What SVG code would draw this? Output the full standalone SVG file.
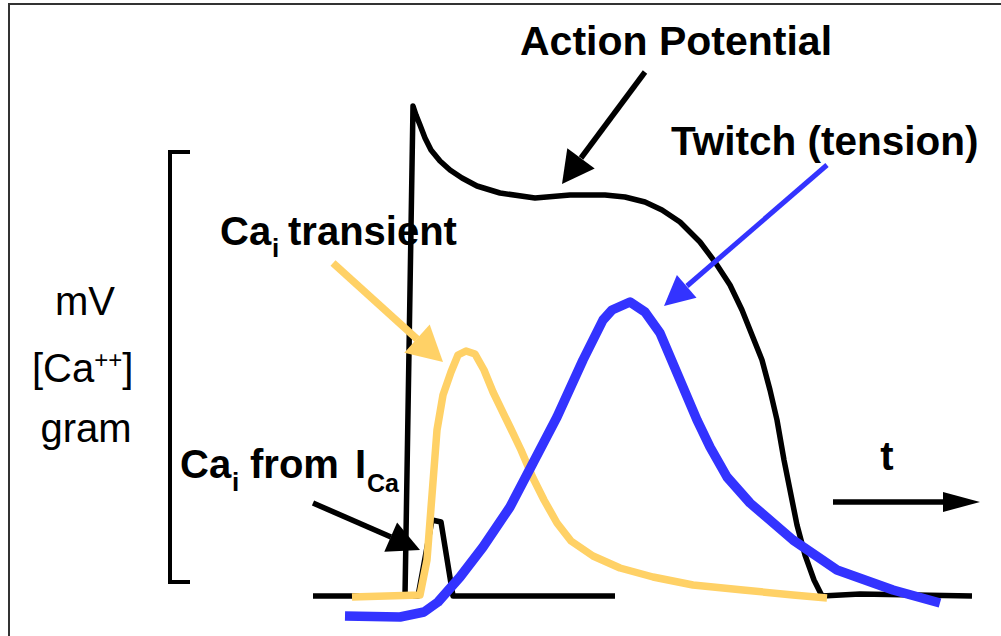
<svg xmlns="http://www.w3.org/2000/svg" width="1001" height="636" viewBox="0 0 1001 636">
<style>
.b{font-family:"Liberation Sans",Arial,sans-serif;font-weight:bold;fill:#000}
.r{font-family:"Liberation Sans",Arial,sans-serif;fill:#000}
.k{fill:none;stroke:#000;stroke-width:5.5;stroke-linejoin:round}
.y{fill:none;stroke:#FFD166;stroke-width:7.5;stroke-linejoin:round}
.u{fill:none;stroke:#3333FF;stroke-width:9.5;stroke-linejoin:round}
</style>
<rect width="1001" height="636" fill="#fff"/>
<path d="M9,636 L9,4 L1001,4" fill="none" stroke="#333" stroke-width="2"/>
<g id="axis">
<path d="M190,152 L170,152 L170,582 L190,582" fill="none" stroke="#000" stroke-width="4"/>
<text class="r" x="85" y="315" font-size="40" text-anchor="middle">mV</text>
<text class="r" x="32" y="382" font-size="40">[Ca<tspan font-size="24" dy="-14">++</tspan><tspan dy="14">]</tspan></text>
<text class="r" x="86" y="442" font-size="40" text-anchor="middle">gram</text>
</g>
<g id="curves">
<path class="k" d="M313,596 L418,596 L432,520 L441,522 L453,596 L615,596"/>
<path class="k" d="M405,596 L413,106 L416,115 L420,125 L425,138 L431,150 L440,161 L450,170 L462,178 L477,186 L500,193 L535,198 L570,195 L605,195 L625,197 L645,202 L662,210 L680,222 L700,242 L715,262 L730,285 L742,310 L752,335 L762,360 L770,390 L777,420 L784,460 L790,490 L797,525 L805,555 L814,580 L822,596 L860,594 L972,596"/>
<path class="y" d="M352,597 L420,595 L427,560 L432,495 L437,430 L443,395 L451,372 L458,355 L466,351 L475,354 L484,370 L493,392 L510,427 L521,450 L533,478 L544,500 L557,523 L571,541 L593,556 L620,568 L653,577 L693,585 L743,590 L793,595 L827,598"/>
<path class="u" d="M345,616 L400,617 L424,612 L438,602 L460,577 L483,547 L510,507 L533,463 L557,417 L583,360 L603,320 L612,310 L630,302 L645,312 L660,333 L680,380 L697,420 L710,447 L727,477 L750,503 L793,540 L837,570 L893,590 L940,603"/>
</g>
<g id="connectors">
<line x1="645" y1="72" x2="581" y2="158" stroke="#000" stroke-width="5.5"/>
<polygon points="562,184 594.7,168.4 567.3,148.2" fill="#000"/>
<line x1="827" y1="165" x2="687" y2="286" stroke="#3333FF" stroke-width="5"/>
<polygon points="664,306 696.5,297.7 676.9,275.1" fill="#3333FF"/>
<line x1="333" y1="263" x2="417" y2="339" stroke="#FFD166" stroke-width="7.5"/>
<polygon points="443,362 404.3,352.7 429.7,324.5" fill="#FFD166"/>
<line x1="313" y1="503" x2="391" y2="537" stroke="#000" stroke-width="5.5"/>
<polygon points="420,550 384.3,551.7 397.1,522.5" fill="#000"/>
<line x1="833" y1="502" x2="945" y2="502" stroke="#000" stroke-width="5.5"/>
<polygon points="943,492 980,502 943,512" fill="#000"/>
</g>
<g id="labels">
<text class="b" x="520" y="55" font-size="41">Action Potential</text>
<text class="b" x="671" y="155" font-size="40.5">Twitch (tension)</text>
<text class="b" x="220" y="245" font-size="40">Ca</text>
<text class="b" x="272" y="257" font-size="26">i</text>
<text class="b" x="288" y="245" font-size="40">transient</text>
<text class="b" x="180" y="478" font-size="40">Ca</text>
<text class="b" x="232" y="491" font-size="26">i</text>
<text class="b" x="250" y="478" font-size="40">from</text>
<text class="b" x="355" y="478" font-size="40">I</text>
<text class="b" x="367" y="492" font-size="25">Ca</text>
<text class="b" x="887" y="470" font-size="40" text-anchor="middle">t</text>
</g>
</svg>
